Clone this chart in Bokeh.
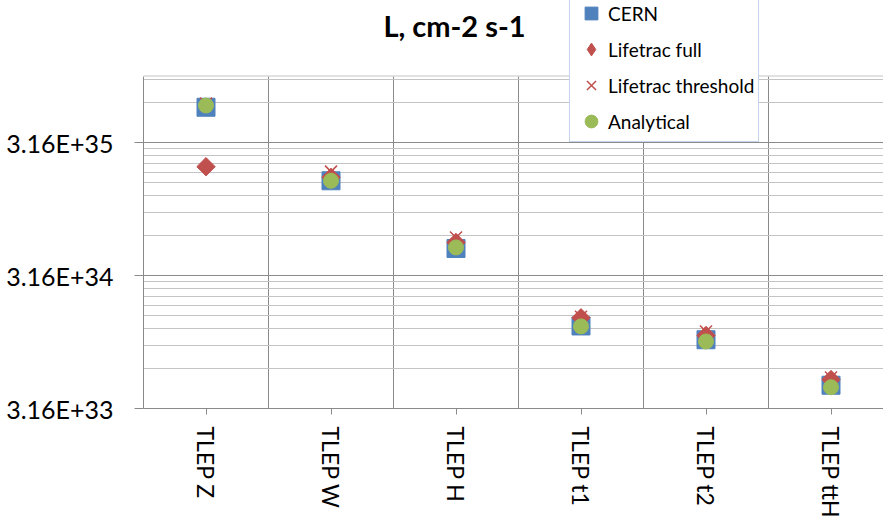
import math
from bokeh.plotting import figure
from bokeh.models import Range1d, FixedTicker, Legend, LegendItem, Label, Span
from bokeh.embed import file_html
from bokeh.resources import INLINE

# ---- data ----
categories = ["TLEP Z", "TLEP W", "TLEP H", "TLEP t1", "TLEP t2", "TLEP ttH"]
cern = [5.82e35, 1.63e35, 5.05e34, 1.32e34, 1.04e34, 4.73e33]
lifetrac_full = [2.08e35, 1.73e35, 5.6e34, 1.52e34, 1.12e34, 5.22e33]
lifetrac_threshold = [6.2e35, 1.91e35, 6.1e34, 1.55e34, 1.2e34, 5.41e33]
analytical = [6.0e35, 1.63e35, 5.14e34, 1.31e34, 1.01e34, 4.57e33]
y_tick_values = [10 ** 33.5, 10 ** 34.5, 10 ** 35.5]
y_tick_labels = ["3.16E+33", "3.16E+34", "3.16E+35"]
y_min, y_max = 10 ** 33.5, 1e36
title_text = "L, cm-2 s-1"

xs = [i + 0.5 for i in range(len(categories))]
minor = [m * t for t in y_tick_values for m in range(2, 10) if m * t <= y_max]

FONT = "Lato"
GRID_DARK = "#8a8a8a"
GRID_LIGHT = "#c4c4c4"
BLUE, RED, GREEN = "#4F81BD", "#C0504D", "#9BBB59"

# frame spans whole height above the x axis; the plot area (y_min..y_max)
# occupies its lower part, leaving room for title and legend inside the frame
DECADE_PX = 133.0
FRAME_H = 408.0
y_top = y_min * 10 ** (FRAME_H / DECADE_PX)

p = figure(width=883, height=527, output_backend="svg", toolbar_location=None,
           x_range=Range1d(0, 5.92), y_range=Range1d(y_min, y_top),
           y_axis_type="log",
           min_border_left=143, min_border_right=0, min_border_top=0,
           min_border_bottom=119)
p.outline_line_color = None
p.background_fill_color = "white"
p.border_fill_color = "white"

# y axis
yt = FixedTicker(ticks=y_tick_values, minor_ticks=minor)
p.yaxis.ticker = yt
p.ygrid.ticker = yt
p.yaxis.bounds = (y_min, y_max)
p.yaxis.major_label_overrides = dict(zip(y_tick_values, y_tick_labels))
p.yaxis.major_label_text_font = FONT
p.yaxis.major_label_text_font_size = "25px"
p.yaxis.major_label_text_color = "black"
p.yaxis.axis_line_color = GRID_DARK
p.yaxis.major_tick_line_color = GRID_DARK
p.yaxis.major_tick_out = 9
p.yaxis.major_tick_in = 0
p.yaxis.minor_tick_line_color = None
p.yaxis.major_label_standoff = 21
p.ygrid.grid_line_color = GRID_DARK
p.ygrid.minor_grid_line_color = GRID_LIGHT

# x axis
xt = FixedTicker(ticks=xs, minor_ticks=[])
p.xaxis.ticker = xt
p.xaxis.major_label_overrides = dict(zip(xs, categories))
p.xaxis.major_label_orientation = -math.pi / 2
p.xaxis.major_label_text_font = FONT
p.xaxis.major_label_text_font_size = "23px"
p.xaxis.major_label_text_color = "black"
p.xaxis.axis_line_color = GRID_DARK
p.xaxis.major_tick_line_color = GRID_DARK
p.xaxis.major_tick_out = 6
p.xaxis.major_tick_in = 0
p.xaxis.minor_tick_line_color = None
p.xaxis.major_label_standoff = 12
p.xgrid.ticker = FixedTicker(ticks=list(range(1, len(categories) + 1)))
p.xgrid.grid_line_color = GRID_DARK
p.xgrid.cross_bounds = (y_min, y_max)

p.add_layout(Span(location=y_max, dimension="width", line_color=GRID_LIGHT, line_width=1))

# series
r1 = p.scatter(xs, cern, marker="square", size=18, fill_color=BLUE, line_color=BLUE)
r2 = p.scatter(xs, lifetrac_full, marker="square", angle=math.pi / 4, size=13,
               fill_color=RED, line_color=RED)
r3 = p.scatter(xs, lifetrac_threshold, marker="x", size=17, line_color=RED, line_width=1.5)
r4 = p.scatter(xs, analytical, marker="circle", size=15, fill_color=GREEN, line_color=GREEN)
# hidden legend swatch for the diamond series (legend ignores marker angle)
r2_key = p.scatter(xs, lifetrac_full, marker="diamond", size=13,
                   fill_color=RED, line_color=RED, visible=False)

legend = Legend(items=[LegendItem(label="CERN", renderers=[r1]),
                       LegendItem(label="Lifetrac full", renderers=[r2_key]),
                       LegendItem(label="Lifetrac threshold", renderers=[r3]),
                       LegendItem(label="Analytical", renderers=[r4])],
                location=(426, 266), padding=4, spacing=4, margin=0,
                glyph_height=32, glyph_width=34, label_standoff=0,
                label_height=20, label_text_font=FONT, label_text_font_size="19px",
                label_text_color="black",
                inactive_fill_alpha=0.0,
                border_line_color="#8EA9DB", border_line_width=1,
                background_fill_color="white", background_fill_alpha=1.0)
p.add_layout(legend, "center")

p.add_layout(Label(x=311, y=383, x_units="screen", y_units="screen", text=title_text,
                   text_font=FONT, text_font_style="bold", text_font_size="29px",
                   text_align="center", text_baseline="middle", text_color="black"))

open("out.html", "w").write(file_html(p, INLINE))
